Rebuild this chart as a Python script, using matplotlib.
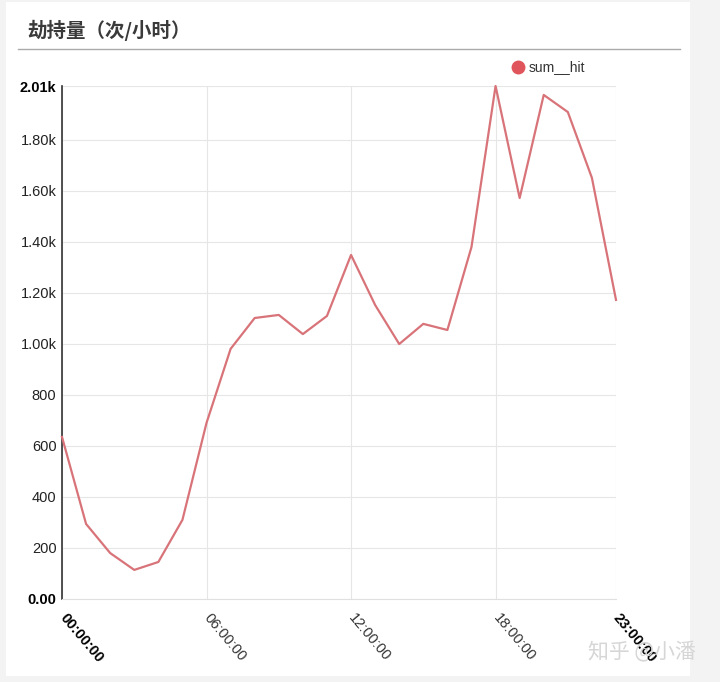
import matplotlib
matplotlib.use("Agg")
import matplotlib.pyplot as plt
from matplotlib.patches import Rectangle
from matplotlib.lines import Line2D

plt.rcParams['font.family'] = ['Liberation Sans', 'Noto Sans CJK SC', 'DejaVu Sans']

hours = list(range(24))
sum_hit = [635, 294, 180, 114, 145, 310, 690, 980, 1101, 1113, 1038, 1109,
           1348, 1152, 999, 1078, 1054, 1379, 2010, 1571, 1975, 1908, 1650, 1172]
y_ticks = [0, 200, 400, 600, 800, 1000, 1200, 1400, 1600, 1800, 2010]
y_labels = ["0.00", "200", "400", "600", "800", "1.00k", "1.20k", "1.40k",
            "1.60k", "1.80k", "2.01k"]
x_ticks = [0, 6, 12, 18, 23]
x_labels = ["00:00:00", "06:00:00", "12:00:00", "18:00:00", "23:00:00"]
title = "劫持量（次/小时）"
series_name = "sum__hit"

W, H = 720, 682
fig = plt.figure(figsize=(W / 100, H / 100), dpi=100)
fig.patch.set_facecolor("#f3f3f3")

# white card
fig.add_artist(Rectangle((6 / W, 1 - 676 / H), 684 / W, 674 / H,
                         transform=fig.transFigure, facecolor="white",
                         edgecolor="none", zorder=0))
fig.text(27 / W, 1 - 30 / H, title, fontsize=14, fontweight="bold",
         color="#3a3a3a", va="center", ha="left",
         family=['Noto Sans CJK SC', 'DejaVu Sans'])
fig.add_artist(Line2D([18 / W, 680 / W], [1 - 49 / H, 1 - 49 / H],
                      transform=fig.transFigure, color="#aaaaaa", lw=1))

ax = fig.add_axes([62 / W, 1 - 599 / H, 554 / W, 513 / H])
ax.set_facecolor("none")
ax.plot(hours, sum_hit, color="#d87479", lw=1.6, clip_on=False, zorder=3)
ax.set_xlim(0, 23)
ax.set_ylim(0, 2010)

ax.set_yticks(y_ticks)
ax.set_yticklabels(y_labels)
ax.set_xticks(x_ticks)
ax.set_xticklabels(x_labels, rotation=-50, ha="left", va="center",
                   rotation_mode="anchor")
for i, lab in enumerate(ax.get_yticklabels()):
    lab.set_fontsize(10.5)
    lab.set_color("#222222")
    if i in (0, len(y_ticks) - 1):
        lab.set_fontweight("bold")
        lab.set_color("black")
for i, lab in enumerate(ax.get_xticklabels()):
    lab.set_fontsize(10.5)
    lab.set_color("#333333")
    if i in (0, len(x_ticks) - 1):
        lab.set_fontweight("bold")
        lab.set_color("black")

ax.tick_params(axis="y", length=0, pad=4)
ax.tick_params(axis="x", length=0, pad=12)
ax.grid(True, color="#e6e6e6", lw=0.8)
ax.set_axisbelow(True)
for s in ["top", "right"]:
    ax.spines[s].set_visible(False)
ax.spines["left"].set_color("#333333")
ax.spines["left"].set_linewidth(1.2)
ax.spines["bottom"].set_color("#e0e0e0")
ax.spines["bottom"].set_linewidth(0.8)

# legend
fig.add_artist(Line2D([518 / W], [1 - 67 / H], marker="o", markersize=9,
                      color="#e0555b", transform=fig.transFigure))
fig.text(529 / W, 1 - 67 / H, series_name, fontsize=10, color="#333333",
         va="center", ha="left")

# watermark
fig.text(588 / W, 1 - 652 / H, "知乎 @小潘", fontsize=15, color="#d6d6d6",
         va="center", ha="left", family=['Noto Sans CJK SC', 'DejaVu Sans'])

fig.savefig("out.png", dpi=100, facecolor=fig.get_facecolor())
